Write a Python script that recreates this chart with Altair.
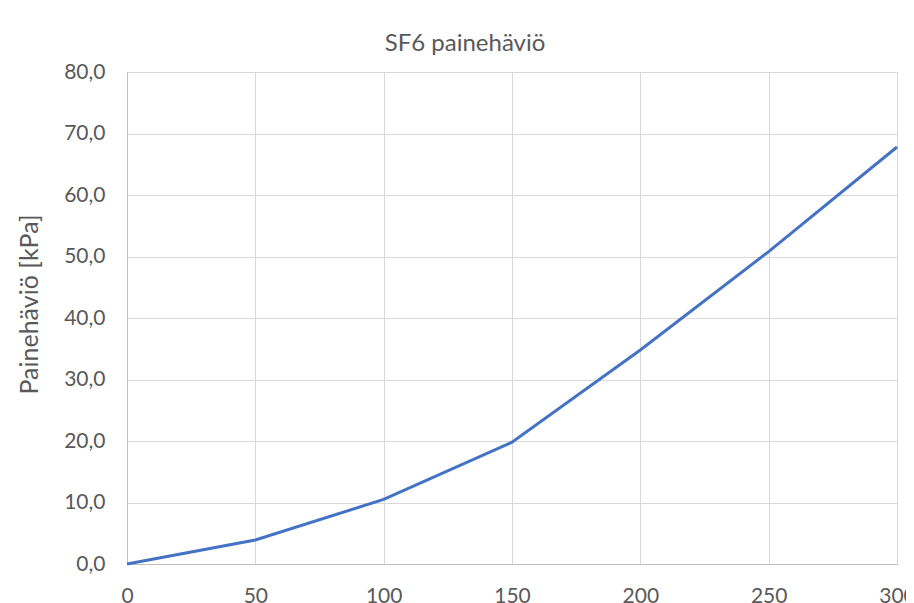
import altair as alt
import pandas as pd

flow = [0, 50, 100, 150, 200, 250, 300]
pressure_drop = [0.0, 3.9, 10.5, 19.8, 34.8, 50.8, 67.8]
x_ticks = [0, 50, 100, 150, 200, 250, 300]
y_ticks = [0, 10, 20, 30, 40, 50, 60, 70, 80]

df = pd.DataFrame({"flow": flow, "dp": pressure_drop})

FONT = "Lato"
TXT = "#595959"

chart = (
    alt.Chart(df)
    .mark_line(color="#4472C4", strokeWidth=3)
    .encode(
        x=alt.X(
            "flow:Q",
            scale=alt.Scale(domain=[0, 300], nice=False),
            axis=alt.Axis(
                values=x_ticks,
                title=None,
                labelPadding=21,
                labelFontSize=21,
                labelFont=FONT,
                labelColor=TXT,
                ticks=False,
                domainColor="#bfbfbf",
                gridColor="#d9d9d9",
                labelFlush=False,
            ),
        ),
        y=alt.Y(
            "dp:Q",
            scale=alt.Scale(domain=[0, 80], nice=False),
            axis=alt.Axis(
                values=y_ticks,
                format=".1f",
                labelExpr="replace(datum.label, '.', ',')",
                title="Painehäviö [kPa]",
                titleFont=FONT,
                titleFontSize=25,
                titleFontWeight="normal",
                titleColor=TXT,
                titleAngle=-90,
                titleAlign="center",
                titleBaseline="middle",
                titleX=-98,
                titleY=232,
                labelPadding=22,
                labelFontSize=21,
                labelFont=FONT,
                labelColor=TXT,
                ticks=False,
                domainColor="#bfbfbf",
                gridColor="#d9d9d9",
            ),
        ),
    )
    .properties(
        width=770,
        height=492,
        title=alt.TitleParams(
            "SF6 painehäviö",
            font=FONT,
            fontSize=24,
            fontWeight="normal",
            color=TXT,
            anchor="middle",
            frame="group",
            baseline="alphabetic",
            offset=19,
            dx=-47,
            dy=33,
        ),
        autosize=alt.AutoSizeParams(type="none"),
        padding={"left": 119, "top": 64, "right": 9, "bottom": 39},
        background="white",
    )
    .configure_view(stroke=None)
)

chart.save("out.html", embed_options={"renderer": "svg", "actions": False})
